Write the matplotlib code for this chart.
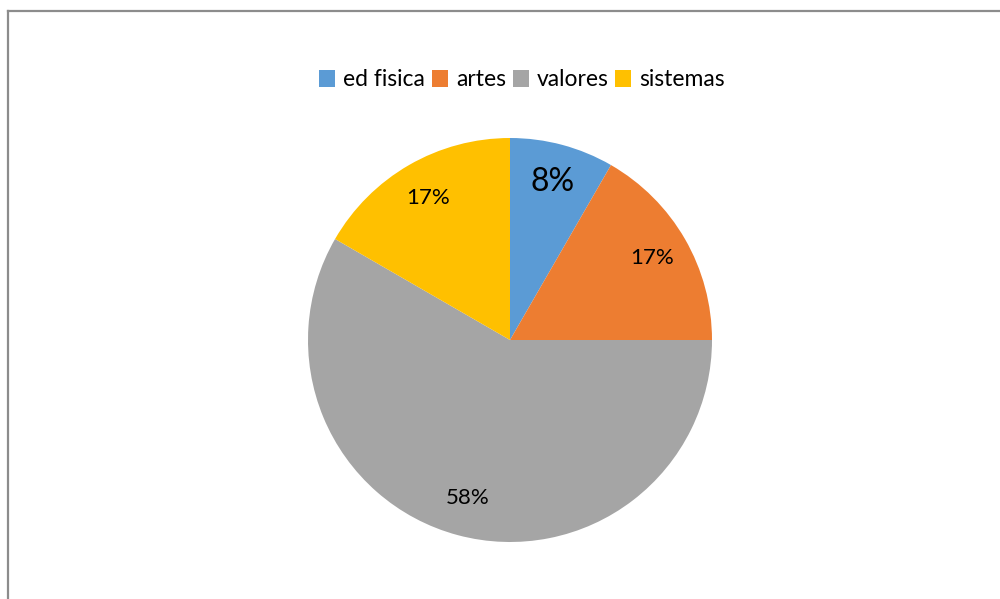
import numpy as np
import matplotlib.pyplot as plt
from matplotlib.patches import Patch

plt.rcParams['font.family'] = ['Lato', 'DejaVu Sans']

categories = ['ed fisica', 'artes', 'valores', 'sistemas']
values = [1, 2, 7, 2]
colors = ['#5B9BD5', '#ED7D31', '#A5A5A5', '#FFC000']
label_sizes = [23, 16, 16, 16]

fig = plt.figure(figsize=(10, 5.99), dpi=100)

# frame line seen at top/left of the original screenshot
fig.add_artist(plt.Line2D([0.008, 0.008], [0, 1 - 11 / 599], color='#8c8c8c', lw=1.6))
fig.add_artist(plt.Line2D([0.008, 1], [1 - 11 / 599, 1 - 11 / 599], color='#8c8c8c', lw=1.6))

cx, cy, r = 510, 340, 202
ax = fig.add_axes([(cx - r) / 1000, (599 - cy - r) / 599, 2 * r / 1000, 2 * r / 599])
wedges, texts, autotexts = ax.pie(values, colors=colors, startangle=90, counterclock=False,
                                  autopct=lambda p: '%.0f%%' % p, pctdistance=0.81,
                                  wedgeprops=dict(linewidth=0))
for t, s in zip(autotexts, label_sizes):
    t.set_fontsize(s)
    t.set_color('black')
ax.set_xlim(-1, 1)
ax.set_ylim(-1, 1)
ax.set_aspect('equal')

handles = [Patch(facecolor=c, edgecolor='none') for c in colors]
fig.legend(handles, categories, loc='center', bbox_to_anchor=(0.522, 1 - 80 / 599),
           ncol=4, frameon=False, fontsize=16.5, handlelength=0.7, handleheight=0.7,
           handletextpad=0.35, columnspacing=0.3)

fig.savefig('out.png', dpi=100)
